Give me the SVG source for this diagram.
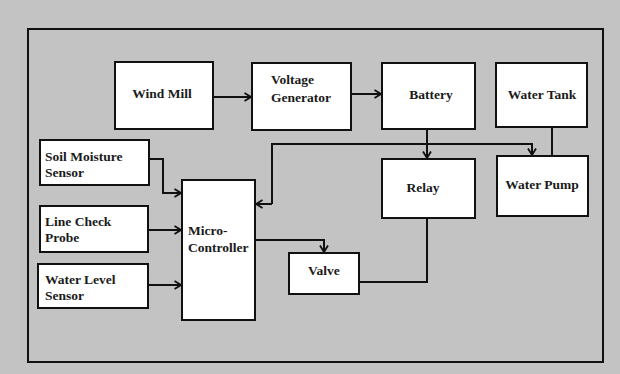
<svg xmlns="http://www.w3.org/2000/svg" width="620" height="374" viewBox="0 0 620 374">
<defs>
<style>
.box{fill:#fff;stroke:#111;stroke-width:2}
.t{font-family:"Liberation Serif","Times New Roman",serif;font-weight:bold;font-size:13.5px;fill:#1a1a1a}
.c{text-anchor:middle}
.ln{fill:none;stroke:#111;stroke-width:2}
</style>
<marker id="ah" viewBox="0 0 8 10" refX="7.5" refY="5" markerWidth="8" markerHeight="10" markerUnits="userSpaceOnUse" orient="auto">
<path d="M1,1 L7.5,5 L1,9" fill="none" stroke="#111" stroke-width="1.8"/>
</marker>
</defs>
<rect x="0" y="0" width="620" height="374" fill="#c3c3c3"/>
<rect x="28" y="29" width="575" height="333" fill="none" stroke="#111" stroke-width="2"/>
<g id="connectors">
<path class="ln" d="M213,97 H251" marker-end="url(#ah)"/>
<path class="ln" d="M351,94 H381" marker-end="url(#ah)"/>
<path class="ln" d="M427,129 V158" marker-end="url(#ah)"/>
<path class="ln" d="M552,127 V156"/>
<path class="ln" d="M272,204 V144 H532 V155" marker-end="url(#ah)"/>
<path class="ln" d="M272,204 H256" marker-end="url(#ah)"/>
<path class="ln" d="M149,159 H163 V193 H181" marker-end="url(#ah)"/>
<path class="ln" d="M148,230 H181" marker-end="url(#ah)"/>
<path class="ln" d="M148,285 H181" marker-end="url(#ah)"/>
<path class="ln" d="M255,240 H324 V252" marker-end="url(#ah)"/>
<path class="ln" d="M427,218 V282 H359"/>
</g>
<g id="windmill"><rect class="box" x="115" y="62" width="98" height="67"/><text class="t c" x="162" y="98">Wind Mill</text></g>
<g id="voltage"><rect class="box" x="252" y="63" width="99" height="67"/><text class="t" x="271" y="84">Voltage</text><text class="t" x="271" y="102">Generator</text></g>
<g id="battery"><rect class="box" x="382" y="63" width="93" height="66"/><text class="t c" x="431" y="99">Battery</text></g>
<g id="watertank"><rect class="box" x="496" y="63" width="91" height="64"/><text class="t c" x="542" y="99">Water Tank</text></g>
<g id="waterpump"><rect class="box" x="497" y="156" width="91" height="60"/><text class="t c" x="542" y="189">Water Pump</text></g>
<g id="relay"><rect class="box" x="382" y="159" width="93" height="59"/><text class="t c" x="423" y="192">Relay</text></g>
<g id="micro"><rect class="box" x="182" y="180" width="73" height="140"/><text class="t" x="188" y="235">Micro-</text><text class="t" x="188" y="252">Controller</text></g>
<g id="soil"><rect class="box" x="40" y="140" width="109" height="45"/><text class="t" x="45" y="161">Soil Moisture</text><text class="t" x="45" y="177">Sensor</text></g>
<g id="linecheck"><rect class="box" x="40" y="206" width="108" height="46"/><text class="t" x="45" y="226">Line Check</text><text class="t" x="45" y="242">Probe</text></g>
<g id="waterlevel"><rect class="box" x="38" y="264" width="110" height="44"/><text class="t" x="45" y="284">Water Level</text><text class="t" x="45" y="300">Sensor</text></g>
<g id="valve"><rect class="box" x="289" y="253" width="70" height="41"/><text class="t c" x="324" y="275">Valve</text></g>
</svg>
